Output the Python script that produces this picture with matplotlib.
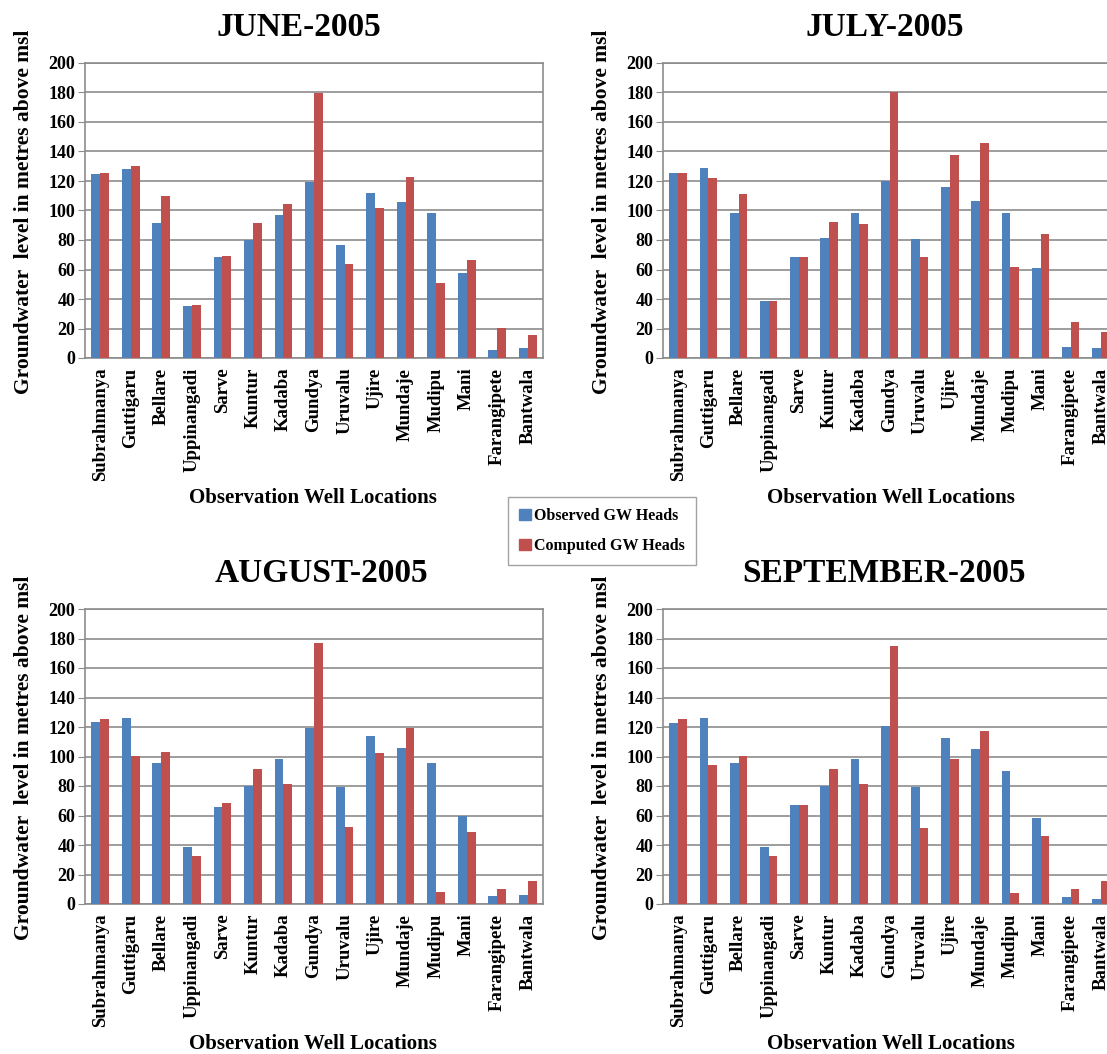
import numpy as np
import matplotlib
matplotlib.use("Agg")
from matplotlib import pyplot as plt
from matplotlib.patches import Patch

plt.rcParams['font.family'] = ['Liberation Serif', 'DejaVu Serif']
plt.rcParams['font.weight'] = 'bold'

# well locations
wells = ["Subrahmanya", "Guttigaru", "Bellare", "Uppinangadi", "Sarve", "Kuntur",
         "Kadaba", "Gundya", "Uruvalu", "Ujire", "Mundaje", "Mudipu", "Mani",
         "Farangipete", "Bantwala"]

# observed / computed heads, metres above msl
june_obs = [125, 128, 91.5, 35.3, 68.5, 80, 97, 119.5, 76.8, 112, 105.5, 98, 57.4, 5.6, 6.5]
june_comp = [125.6, 130.2, 110, 36, 69.4, 91.5, 104.4, 179.4, 63.7, 101.7, 123, 50.8, 66.7, 20.3, 15.8]

july_obs = [125.6, 128.6, 98, 38.9, 68.5, 81.4, 98, 120, 80.5, 115.7, 106.2, 98, 61, 7.5, 6.5]
july_comp = [125.6, 122, 111, 38.9, 68.5, 92.4, 90.6, 180.6, 68.5, 137.6, 146, 62, 84, 24.2, 17.4]

aug_obs = [123.5, 126.4, 95.7, 38.6, 66.1, 79.7, 98.6, 119.6, 79.2, 114.2, 106.1, 95.7, 59.6, 5.4, 6.3]
aug_comp = [125.3, 100.5, 103.2, 32.3, 68.2, 91.2, 81.3, 177, 52.4, 102.3, 119.2, 8.1, 48.8, 9.9, 15.4]

sep_obs = [122.6, 126.4, 95.7, 38.6, 67, 80.1, 98.6, 120.8, 79.2, 112.4, 105, 90.3, 58, 4.5, 3.6]
sep_comp = [125.3, 94.1, 100.5, 32.3, 67, 91.2, 81.3, 175.2, 51.5, 98.6, 117, 7.2, 45.8, 9.9, 15.4]

titles = ["JUNE-2005", "JULY-2005", "AUGUST-2005", "SEPTEMBER-2005"]
obs_all = [june_obs, july_obs, aug_obs, sep_obs]
comp_all = [june_comp, july_comp, aug_comp, sep_comp]

blue = "#4F81BD"
red = "#C0504D"
grid_c = "#8C8C8C"

W, H = 1107, 1054
fig = plt.figure(figsize=(W / 100, H / 100), dpi=100)

# pixel boxes: left, top, width, height
boxes = [(85, 63, 458, 295), (663, 63, 453, 295),
         (85, 609, 458, 295), (663, 609, 453, 295)]
title_xy = [(299, 27), (885, 27), (321, 573), (884, 573)]

x = np.arange(len(wells))
bw = 0.29

for i in range(4):
    l, t, w, h = boxes[i]
    ax = fig.add_axes([l / W, 1 - (t + h) / H, w / W, h / H])
    ax.bar(x - bw / 2, obs_all[i], bw, color=blue, zorder=3)
    ax.bar(x + bw / 2, comp_all[i], bw, color=red, zorder=3)
    ax.set_xlim(-0.5, len(wells) - 0.5)
    ax.set_ylim(0, 200)
    ax.set_yticks(range(0, 201, 20))
    ax.yaxis.grid(True, color=grid_c, linewidth=1.2, zorder=0)
    ax.set_xticks(x)
    ax.set_xticklabels(wells, rotation=90, fontsize=13.5, fontweight='bold')
    ax.tick_params(axis='x', length=0, pad=7)
    ax.tick_params(axis='y', length=5, color=grid_c, labelsize=13, pad=2)
    for lab in ax.get_yticklabels():
        lab.set_fontweight('bold')
    for s in ax.spines.values():
        s.set_color(grid_c)
        s.set_linewidth(1.2)

    tx, ty = title_xy[i]
    fig.text(tx / W, 1 - ty / H, titles[i], ha='center', va='center',
             fontsize=24, fontweight='bold')
    fig.text((l - 61) / W, 1 - (t + 149) / H, "Groundwater  level in metres above msl",
             rotation=90, ha='center', va='center', fontsize=15.5, fontweight='bold')
    fig.text((l + 228) / W, 1 - (t + 435) / H, "Observation Well Locations",
             ha='center', va='center', fontsize=15, fontweight='bold')

handles = [Patch(color=blue, label="Observed GW Heads"),
           Patch(color=red, label="Computed GW Heads")]
fig.legend(handles=handles, loc='center', bbox_to_anchor=(602 / W, 1 - 531 / H),
           frameon=True, fancybox=False, edgecolor=grid_c,
           prop={'weight': 'bold', 'size': 11.5}, handlelength=0.7, handleheight=0.7,
           handletextpad=0.2, labelspacing=0.9, borderpad=0.7)

plt.savefig("out.png", dpi=100)
